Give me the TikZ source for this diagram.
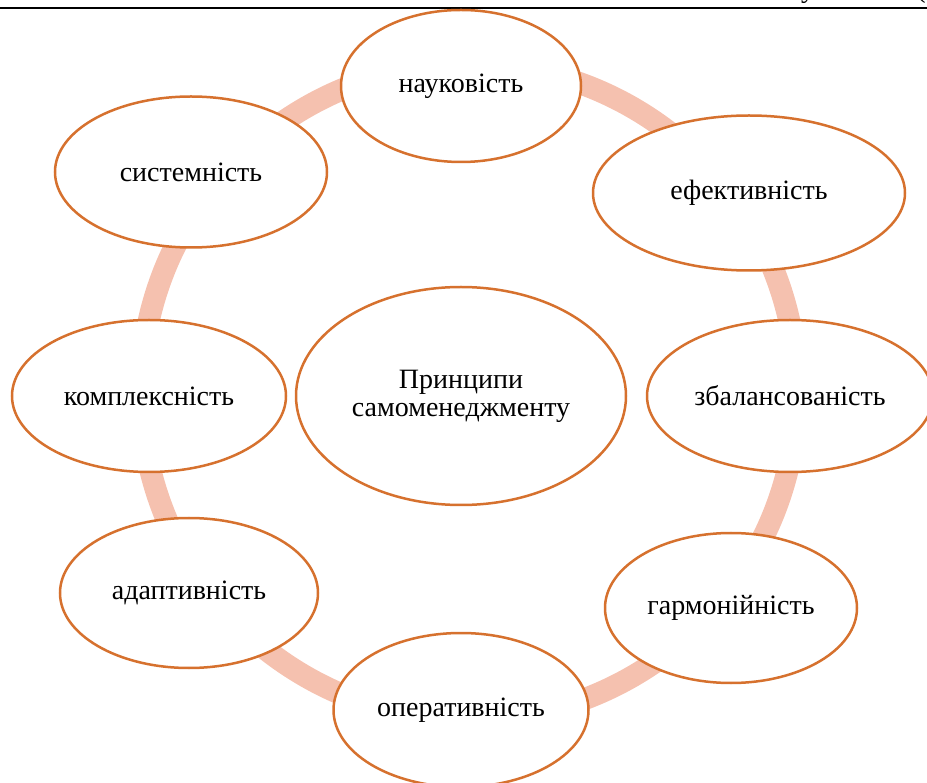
\documentclass[tikz,border=0pt]{standalone}
\usepackage{fontspec}
\setmainfont{Liberation Serif}
\usetikzlibrary{shapes.geometric,positioning}
\definecolor{ringpink}{RGB}{245,193,175}
\definecolor{edgeorange}{RGB}{214,113,46}

\begin{document}
\begin{tikzpicture}[x=1pt,y=-1pt,
                    principle/.style={ellipse,draw=edgeorange,line width=2.5pt,fill=white,inner sep=0pt,
                                      font=\fontsize{28}{28}\selectfont,align=center}]
      \useasboundingbox (0,0) rectangle (927,783);
      % rule of the page above
      \draw[line width=1.5pt] (0,8) -- (927,8);
      \node[anchor=base,font=\fontsize{28}{28}\selectfont] (cutu) at (808,-2) {у};
      \node[anchor=base,font=\fontsize{28}{28}\selectfont] (cutp) at (921,-2) {(};

      % ring behind the ellipses
      \coordinate (hub) at (469,392);
      \draw[ringpink,line width=22pt] (hub) circle[radius=328];

      \node[principle,minimum width=330,minimum height=218] (0) at (461,396) {Принципи\\самоменеджменту};
      \node[principle,minimum width=240,minimum height=152] (1) at (461,86) {науковість};
      \node[principle,minimum width=312,minimum height=155] (2) at (749,193) {ефективність};
      \node[principle,minimum width=286,minimum height=152] (3) at (790,396) {збалансованість};
      \node[principle,minimum width=252,minimum height=150] (4) at (731,608) {гармонійність};
      \node[principle,minimum width=255,minimum height=154] (5) at (461,710) {оперативність};
      \node[principle,minimum width=258,minimum height=150] (6) at (189,593) {адаптивність};
      \node[principle,minimum width=274,minimum height=152] (7) at (149,396) {комплексність};
      \node[principle,minimum width=272,minimum height=151] (8) at (191,172) {системність};
\end{tikzpicture}
\end{document}
